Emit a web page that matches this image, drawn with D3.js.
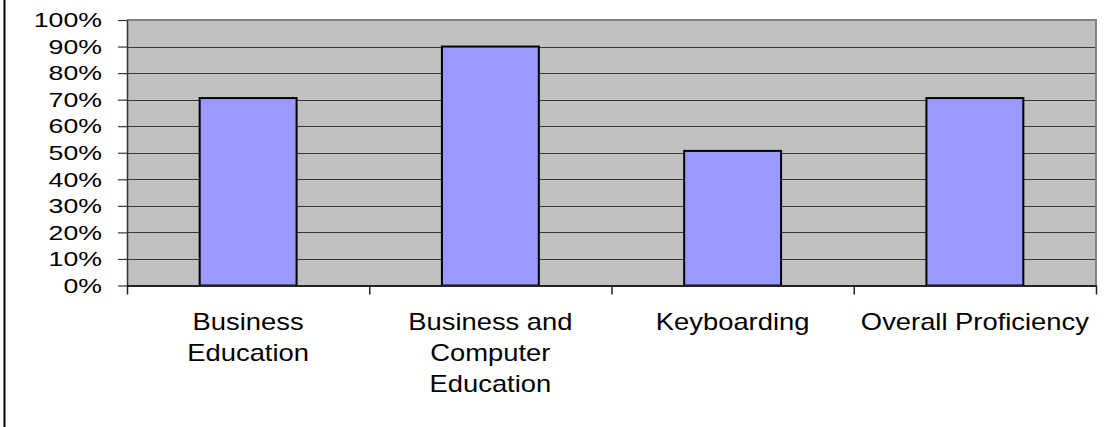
<!DOCTYPE html>
<html>
<head>
<meta charset="utf-8">
<script src="https://cdn.jsdelivr.net/npm/d3@7"></script>
<style>
  html, body { margin: 0; padding: 0; background: #ffffff; }
  svg { display: block; }
  text { font-family: "Liberation Sans", Arial, Helvetica, sans-serif; fill: #000; }
</style>
</head>
<body>
<script>
// Proficiency share by test area
const categories = ["Business Education", "Business and Computer Education", "Keyboarding", "Overall Proficiency"];
const categoryLines = [["Business", "Education"], ["Business and", "Computer", "Education"], ["Keyboarding"], ["Overall Proficiency"]];
const values = [0.706, 0.90, 0.507, 0.706];
const yTicks = [0, 0.1, 0.2, 0.3, 0.4, 0.5, 0.6, 0.7, 0.8, 0.9, 1.0];

const W = 1113, H = 427;
const plot = { left: 127, right: 1096, top: 20, bottom: 285.5 };

const svg = d3.select("body").append("svg")
  .attr("width", W).attr("height", H);

// outer frame edge on the left
svg.append("line")
  .attr("x1", 4.5).attr("x2", 4.5).attr("y1", 0).attr("y2", H)
  .attr("stroke", "#000").attr("stroke-width", 2);

const x = d3.scaleBand()
  .domain(categories)
  .range([plot.left, plot.right])
  .paddingInner(0.6)
  .paddingOuter(0.3);

const xEdges = d3.scaleLinear()
  .domain([0, categories.length])
  .range([plot.left, plot.right]);

const y = d3.scaleLinear()
  .domain([0, 1])
  .range([plot.bottom, plot.top]);

// plot background
svg.append("rect")
  .attr("x", plot.left).attr("y", plot.top)
  .attr("width", plot.right - plot.left).attr("height", plot.bottom - plot.top)
  .attr("fill", "#c0c0c0");

// horizontal gridlines
svg.append("g")
  .selectAll("line")
  .data(yTicks.filter(d => d > 0 && d < 1))
  .join("line")
  .attr("x1", plot.left).attr("x2", plot.right)
  .attr("y1", d => Math.round(y(d)) + 0.5).attr("y2", d => Math.round(y(d)) + 0.5)
  .attr("stroke", "#383838").attr("stroke-width", 1);

// plot border (top and right)
svg.append("path")
  .attr("d", `M${plot.left},${plot.top} H${plot.right} V${plot.bottom}`)
  .attr("fill", "none").attr("stroke", "#808080").attr("stroke-width", 2);

// bars
svg.append("g")
  .selectAll("rect")
  .data(categories)
  .join("rect")
  .attr("x", d => x(d))
  .attr("y", (d, i) => y(values[i]))
  .attr("width", x.bandwidth())
  .attr("height", (d, i) => y(0) - y(values[i]))
  .attr("fill", "#9999ff")
  .attr("stroke", "#000")
  .attr("stroke-width", 2);

// y axis
const yScaleX = 1.27;
const yAxis = svg.append("g")
  .attr("transform", `translate(${plot.left},0)`)
  .call(d3.axisLeft(y).tickValues(yTicks).tickFormat(d3.format(".0%")).tickSize(9).tickSizeOuter(0));
yAxis.select(".domain").attr("stroke", "#333").attr("stroke-width", 1.5);
yAxis.selectAll(".tick line").attr("stroke", "#333").attr("stroke-width", 1.2);
yAxis.selectAll(".tick text")
  .attr("font-size", 21)
  .attr("x", -25 / yScaleX)
  .attr("dy", "0.32em")
  .attr("transform", `scale(${yScaleX},1)`);

// x axis with ticks at category boundaries
const xAxis = svg.append("g")
  .attr("transform", `translate(0,${plot.bottom})`)
  .call(d3.axisBottom(xEdges).tickValues(d3.range(categories.length + 1)).tickFormat("").tickSize(9).tickSizeOuter(0));
xAxis.select(".domain").attr("stroke", "#222").attr("stroke-width", 2);
xAxis.selectAll(".tick line").attr("stroke", "#222").attr("stroke-width", 1.5);

// category labels
const xScaleX = 1.19;
const labels = svg.append("g");
categories.forEach((c, i) => {
  const cx = x(c) + x.bandwidth() / 2;
  categoryLines[i].forEach((line, j) => {
    labels.append("text")
      .attr("transform", `translate(${cx},${330 + j * 31}) scale(${xScaleX},1)`)
      .attr("text-anchor", "middle")
      .attr("font-size", 23)
      .text(line);
  });
});
</script>
</body>
</html>
